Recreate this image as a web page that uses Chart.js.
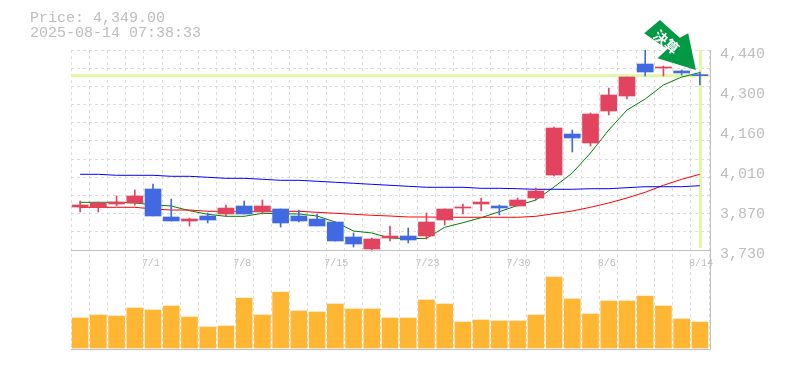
<!DOCTYPE html>
<html>
<head>
<meta charset="utf-8">
<script src="https://cdn.jsdelivr.net/npm/chart.js@4"></script>
<style>
  html, body { margin: 0; padding: 0; background: #fff; overflow: hidden; }
  #wrap { position: relative; width: 785px; height: 370px; }
  #header { position: absolute; left: 30px; top: 11px; color: #bdbdbd; font: 15px/15px "Liberation Mono", monospace; white-space: pre; }
  canvas { display: block; }
</style>
</head>
<body>
<div id="wrap">
  <div id="header">Price: 4,349.00
2025-08-14 07:38:33</div>
  <canvas id="chart" width="785" height="370"></canvas>
</div>
<script>
const dates = ["6/25", "6/26", "6/27", "6/30", "7/1", "7/2", "7/3", "7/4", "7/7", "7/8", "7/9", "7/10", "7/11", "7/14", "7/15", "7/16", "7/17", "7/18", "7/22", "7/23", "7/24", "7/25", "7/28", "7/29", "7/30", "7/31", "8/1", "8/4", "8/5", "8/6", "8/7", "8/8", "8/12", "8/13", "8/14"];
const shownDates = ["7/1", "7/8", "7/15", "7/23", "7/30", "8/6", "8/14"];

const open = [3882.7, 3882.7, 3893.3, 3896.9, 3946.5, 3847.2, 3833, 3850.7, 3857.8, 3886.2, 3865, 3875.6, 3850.7, 3840, 3829.4, 3776.2, 3733.6, 3772.6, 3779.7, 3779.7, 3836.5, 3879.1, 3893.3, 3886.2, 3886.2, 3914.6, 3996.3, 4141.8, 4109.9, 4223.5, 4276.7, 4390.3, 4376.1, 4365.5, 4351.3];
const close = [3889.8, 3896.9, 3900.4, 3921.7, 3850.7, 3833, 3840, 3836.5, 3879, 3857.8, 3886.2, 3825.9, 3833, 3815.2, 3762, 3751.3, 3769, 3779.7, 3765.5, 3829.4, 3875.6, 3882.7, 3900.4, 3879.1, 3907.5, 3939.5, 4163.1, 4127.6, 4212.8, 4280.3, 4344.2, 4361.9, 4379.7, 4358.4, 4349];
const high = [3904, 3900.4, 3921.7, 3943, 3964.3, 3911, 3843.6, 3861.3, 3889.8, 3904, 3907.5, 3875.6, 3872, 3857.8, 3829.4, 3790.4, 3772.6, 3815.2, 3808.1, 3861.4, 3875.6, 3893.3, 3914.6, 3889.8, 3914.6, 3950.1, 4166.7, 4156, 4216.4, 4305.1, 4344.2, 4440, 4383.2, 4369, 4361.9];
const low = [3864.9, 3864.9, 3886.2, 3889.8, 3850.7, 3833, 3815, 3825.9, 3850.7, 3857.8, 3857.8, 3811.6, 3829.4, 3815.2, 3762, 3740.6, 3726.5, 3762, 3754.9, 3769, 3818.8, 3857.8, 3868.5, 3854.3, 3886.2, 3907.5, 3992.7, 4077.9, 4099.2, 4209.3, 4266, 4347.7, 4347.7, 4351.3, 4315.8];

const maShort = [3899.3, 3899.3, 3899.3, 3896.9, 3890.8, 3886.2, 3869.5, 3856.7, 3849.6, 3849.6, 3860.3, 3858.9, 3857.8, 3850.7, 3829.4, 3797.4, 3790.4, 3772.6, 3770.1, 3771.5, 3810.6, 3826.9, 3844.7, 3866, 3888, 3907.5, 3953.7, 4003.4, 4074.4, 4156, 4227, 4266, 4315.8, 4344, 4360];
const maMid = [3881.6, 3881.6, 3881.6, 3881.6, 3875.6, 3872, 3872, 3867.4, 3867.4, 3867.4, 3867.4, 3867.4, 3867.4, 3863.8, 3860.3, 3856.7, 3853.2, 3850.7, 3847.2, 3847.2, 3846.1, 3846.1, 3846.1, 3846.1, 3846.1, 3849.6, 3858.9, 3868.4, 3881.6, 3896.9, 3914.6, 3934.8, 3959.7, 3981, 3998.8];
const maLong = [3998.7, 3998.7, 3995.2, 3995.2, 3995.2, 3991.6, 3991.6, 3988.1, 3984.5, 3984.5, 3981, 3977.4, 3977.4, 3973.9, 3970.4, 3966.8, 3963.2, 3959.7, 3956.1, 3952.6, 3952.6, 3952.6, 3949, 3949, 3947.6, 3945.5, 3945.5, 3945.5, 3947.6, 3947.6, 3951.2, 3954.7, 3954.7, 3954.7, 3958.3];

const volume = [30, 33, 32, 40, 38, 42, 31, 21, 22, 50, 33, 56, 37, 36, 44, 39, 39, 30, 30, 48, 44, 26, 28, 27, 27, 33, 71, 49, 34, 47, 47, 52, 42, 29, 26];

const priceTicks = [4440, 4298, 4156, 4014, 3872, 3730];
const priceLabels = ["4,440", "4,300", "4,160", "4,010", "3,870", "3,730"];
const lastPrice = 4349;
const markerLabel = "決算";

const RED = "#e2435f";
const BLUE = "#4169e1";
const GRID = "#dcdcdc";
const FRAME = "#c0c0c0";
const GUIDE = "#e2f5a8";
const TEXT = "#bdbdbd";

const candleColors = open.map((o, i) => (close[i] >= o ? RED : BLUE));

function lineSet(data, color) {
  return {
    type: "line",
    data: data,
    borderColor: color,
    borderWidth: 1,
    pointRadius: 0,
    tension: 0,
    yAxisID: "y",
    order: 3,
  };
}

// guide lines under the series, frame and arrow on top
const overlays = {
  id: "overlays",
  beforeDatasetsDraw(chart) {
    const { ctx, chartArea, scales } = chart;
    const py = scales.y.getPixelForValue(lastPrice);
    const px = scales.x.getPixelForValue(dates.length - 1);
    ctx.save();
    ctx.strokeStyle = GUIDE;
    ctx.lineWidth = 3;
    ctx.beginPath();
    ctx.moveTo(chartArea.left, py);
    ctx.lineTo(chartArea.right + 1, py);
    ctx.moveTo(px + 0.5, chartArea.top);
    ctx.lineTo(px + 0.5, scales.y.getPixelForValue(3730) - 2);
    ctx.stroke();
    ctx.restore();
  },
  afterDraw(chart) {
    const { ctx, chartArea, scales } = chart;
    const mid = Math.round(scales.y.getPixelForValue(3730)) + 0.5;
    const right = Math.round(chartArea.right) + 1.5;
    const bottom = chartArea.bottom - 0.5;
    ctx.save();
    ctx.strokeStyle = FRAME;
    ctx.lineWidth = 1;
    ctx.beginPath();
    ctx.moveTo(chartArea.left, mid);
    ctx.lineTo(right, mid);
    ctx.moveTo(chartArea.left, bottom);
    ctx.lineTo(right, bottom);
    ctx.moveTo(right, chartArea.top);
    ctx.lineTo(right, bottom);
    ctx.stroke();

    // earnings arrow, tip just left of the last candle
    const tipX = scales.x.getPixelForValue(dates.length - 1) - 4;
    const tipY = 70;
    ctx.translate(tipX, tipY);
    ctx.fillStyle = "#009944";
    ctx.beginPath();
    ctx.moveTo(0, 0);
    ctx.lineTo(-38.3, -11.7);
    ctx.lineTo(-28.7, -20.7);
    ctx.lineTo(-51.7, -36.7);
    ctx.lineTo(-36, -50);
    ctx.lineTo(-16, -32.3);
    ctx.lineTo(-7.7, -36.7);
    ctx.closePath();
    ctx.fill();
    ctx.translate(-29.5, -28);
    ctx.rotate((40 * Math.PI) / 180);
    ctx.fillStyle = "#fff";
    ctx.font = 'bold 14px "Noto Sans CJK JP"';
    ctx.textAlign = "center";
    ctx.textBaseline = "middle";
    ctx.fillText(markerLabel, 0, 0);
    ctx.restore();
  },
};

new Chart(document.getElementById("chart").getContext("2d"), {
  type: "bar",
  plugins: [overlays],
  data: {
    labels: dates,
    datasets: [
      {
        data: volume,
        backgroundColor: "#ffb733",
        barThickness: 16,
        grouped: false,
        yAxisID: "vol",
        order: 5,
      },
      lineSet(maLong, "#0000ff"),
      lineSet(maMid, "#ff0000"),
      lineSet(maShort, "#008000"),
      {
        data: low.map((l, i) => [l, high[i]]),
        backgroundColor: candleColors,
        barThickness: 1,
        grouped: false,
        yAxisID: "y",
        order: 2,
      },
      {
        data: open.map((o, i) => [o, close[i]]),
        backgroundColor: candleColors,
        minBarLength: 1,
        barThickness: 16,
        grouped: false,
        yAxisID: "y",
        order: 1,
      },
    ],
  },
  options: {
    responsive: false,
    animation: false,
    layout: { padding: { left: 71, right: 0, top: 50, bottom: 20 } },
    plugins: { legend: { display: false }, tooltip: { enabled: false } },
    scales: {
      x: {
        position: { y: 3730 },
        grid: { color: GRID, drawTicks: false, offset: true },
        border: { display: false, dash: [3, 3] },
        ticks: {
          autoSkip: false,
          maxRotation: 0,
          padding: 7,
          labelOffset: 1,
          color: TEXT,
          font: { family: "Liberation Mono", size: 10 },
          callback(value) {
            const label = this.getLabelForValue(value);
            // the original starts every date at the same spot of the candle
            return shownDates.includes(label) ? label.padEnd(4) : "";
          },
        },
      },
      y: {
        position: "right",
        min: 3375,
        max: 4440,
        afterBuildTicks(scale) {
          scale.ticks = priceTicks.map((value) => ({ value }));
        },
        afterFit(scale) {
          scale.width = 76;
        },
        grid: { display: false, drawTicks: false },
        border: { display: false },
        ticks: {
          padding: 11,
          labelOffset: 4,
          color: TEXT,
          font: { family: "Liberation Mono", size: 15 },
          callback(value) {
            return priceLabels[priceTicks.indexOf(value)];
          },
        },
      },
      // only carries the horizontal grid of the price panel
      gridY: {
        position: "left",
        min: 0,
        max: 16.5,
        afterBuildTicks(scale) {
          scale.ticks = Array.from({ length: 12 }, (_, i) => ({ value: 16.5 - i }));
        },
        afterFit(scale) {
          scale.width = 0;
        },
        grid: { color: GRID, drawTicks: false },
        border: { display: false, dash: [3, 3] },
        ticks: { display: false },
      },
      vol: {
        display: false,
        min: -2,
        max: 298,
      },
    },
  },
});
</script>
</body>
</html>
